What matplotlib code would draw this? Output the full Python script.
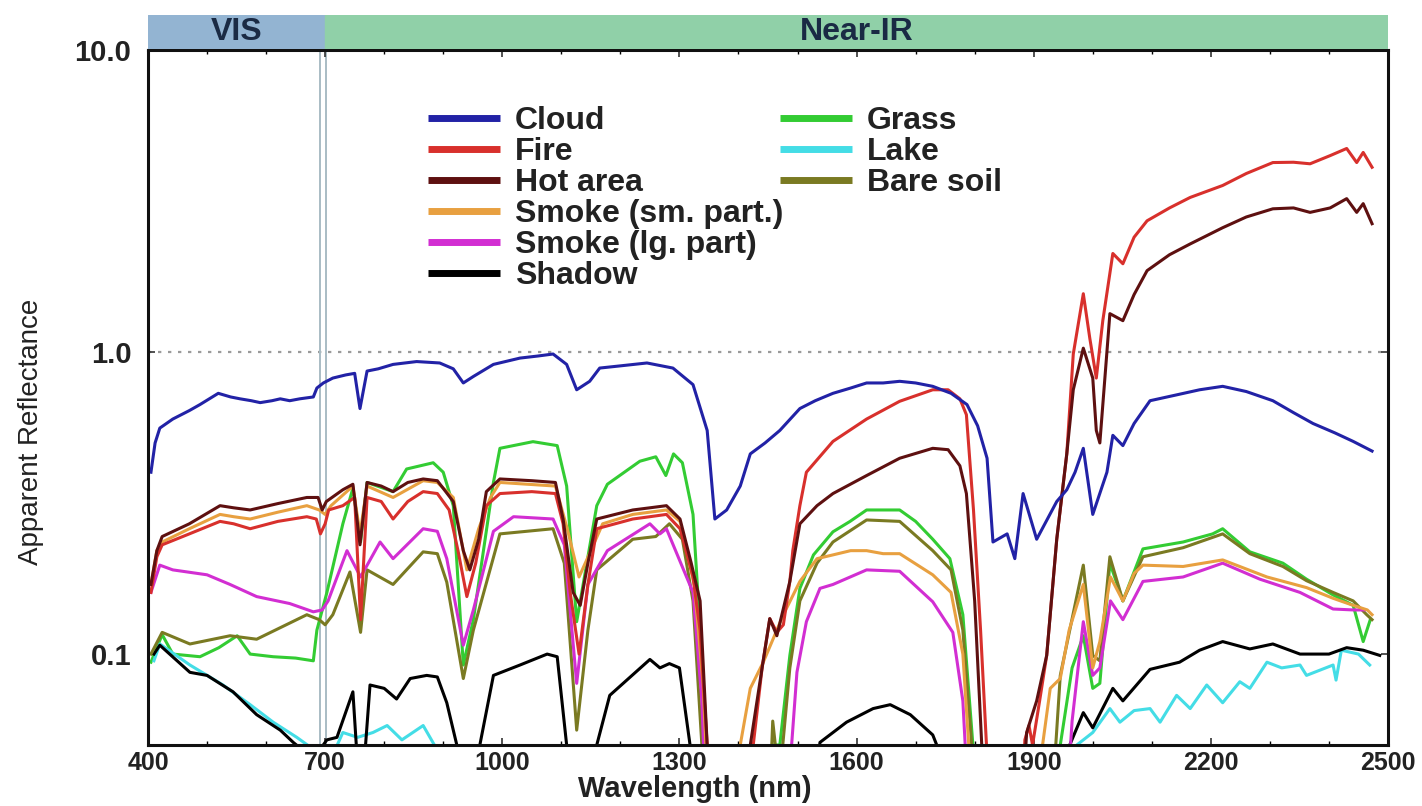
import numpy as np
import matplotlib.pyplot as plt
from matplotlib.lines import Line2D
from matplotlib.ticker import FixedLocator, FixedFormatter, NullLocator, MultipleLocator

plt.rcParams['font.family'] = ['Liberation Sans', 'DejaVu Sans']

# (wavelength nm, apparent reflectance); values under 0.05 run off the bottom of the axis
cloud = [(405, 0.40), (412, 0.50), (420, 0.56), (442, 0.60), (470, 0.64), (488, 0.67), (519, 0.73),
         (540, 0.71), (556, 0.70), (575, 0.69), (590, 0.68), (610, 0.69), (624, 0.70), (640, 0.69),
         (657, 0.70), (680, 0.71), (686, 0.76), (697, 0.79), (713, 0.82), (735, 0.84), (750, 0.85),
         (759, 0.65), (771, 0.865), (790, 0.88), (815, 0.91), (855, 0.93), (894, 0.92), (917, 0.88),
         (934, 0.79), (951, 0.83), (985, 0.91), (1030, 0.955), (1060, 0.97), (1086, 0.985),
         (1109, 0.91), (1126, 0.75), (1148, 0.80), (1165, 0.885), (1200, 0.90), (1245, 0.92),
         (1289, 0.885), (1323, 0.78), (1347, 0.55), (1360, 0.28), (1380, 0.30), (1403, 0.36),
         (1420, 0.46), (1445, 0.50), (1470, 0.55), (1504, 0.65), (1530, 0.69), (1560, 0.73),
         (1590, 0.76), (1617, 0.79), (1645, 0.79), (1673, 0.80), (1700, 0.79), (1729, 0.77),
         (1760, 0.73), (1787, 0.67), (1805, 0.57), (1821, 0.445), (1831, 0.235), (1855, 0.25),
         (1868, 0.207), (1882, 0.34), (1905, 0.24), (1939, 0.32), (1956, 0.35), (1970, 0.40),
         (1984, 0.48), (2000, 0.29), (2024, 0.40), (2034, 0.53), (2051, 0.49), (2070, 0.58),
         (2097, 0.69), (2140, 0.72), (2181, 0.75), (2220, 0.77), (2260, 0.74), (2305, 0.69),
         (2340, 0.63), (2373, 0.58), (2410, 0.54), (2441, 0.506), (2473, 0.47)]

fire = [(405, 0.16), (415, 0.21), (424, 0.23), (470, 0.25), (522, 0.275), (545, 0.27), (573, 0.26),
        (620, 0.275), (669, 0.285), (685, 0.28), (692, 0.25), (700, 0.27), (706, 0.30), (730, 0.31),
        (750, 0.33), (760, 0.13), (771, 0.33), (795, 0.32), (815, 0.28), (840, 0.32), (866, 0.345),
        (890, 0.34), (910, 0.30), (925, 0.22), (940, 0.155), (955, 0.20), (973, 0.31), (996, 0.34),
        (1050, 0.345), (1090, 0.34), (1103, 0.27), (1115, 0.16), (1130, 0.10), (1145, 0.17),
        (1160, 0.26), (1221, 0.28), (1250, 0.285), (1278, 0.29), (1301, 0.26), (1323, 0.18),
        (1335, 0.12), (1347, 0.05), (1355, 0.03), (1410, 0.03), (1425, 0.05), (1440, 0.09),
        (1453, 0.131), (1465, 0.118), (1476, 0.125), (1487, 0.174), (1492, 0.22), (1504, 0.31),
        (1515, 0.40), (1560, 0.506), (1617, 0.60), (1673, 0.687), (1729, 0.75), (1755, 0.75),
        (1775, 0.70), (1786, 0.62), (1798, 0.30), (1810, 0.12), (1820, 0.05), (1828, 0.03),
        (1880, 0.03), (1885, 0.052), (1892, 0.058), (1898, 0.05), (1910, 0.07), (1922, 0.099),
        (1939, 0.24), (1956, 0.46), (1967, 0.985), (1984, 1.56), (1995, 1.11), (2006, 0.82),
        (2017, 1.27), (2034, 2.12), (2051, 1.96), (2070, 2.40), (2092, 2.72), (2130, 3.0),
        (2165, 3.25), (2220, 3.56), (2260, 3.9), (2305, 4.24), (2340, 4.25), (2368, 4.2),
        (2402, 4.47), (2430, 4.72), (2447, 4.24), (2458, 4.58), (2473, 4.09)]

hot_area = [(405, 0.17), (415, 0.22), (424, 0.245), (470, 0.27), (522, 0.31), (545, 0.305), (573, 0.30),
            (620, 0.315), (669, 0.33), (688, 0.33), (695, 0.30), (702, 0.32), (730, 0.35), (747, 0.365),
            (759, 0.23), (771, 0.37), (795, 0.36), (815, 0.345), (840, 0.37), (866, 0.38), (890, 0.375),
            (917, 0.32), (934, 0.22), (945, 0.19), (960, 0.24), (973, 0.345), (996, 0.38), (1050, 0.375),
            (1090, 0.37), (1103, 0.28), (1120, 0.16), (1132, 0.145), (1145, 0.20), (1160, 0.28),
            (1221, 0.30), (1250, 0.305), (1278, 0.31), (1301, 0.28), (1320, 0.20), (1335, 0.15),
            (1347, 0.05), (1355, 0.03), (1412, 0.03), (1420, 0.05), (1440, 0.09), (1453, 0.131),
            (1465, 0.115), (1487, 0.174), (1504, 0.27), (1533, 0.31), (1560, 0.34), (1617, 0.39),
            (1673, 0.445), (1729, 0.48), (1755, 0.475), (1775, 0.42), (1786, 0.34), (1800, 0.15),
            (1812, 0.05), (1820, 0.03), (1880, 0.03), (1888, 0.055), (1905, 0.07), (1922, 0.099),
            (1939, 0.24), (1956, 0.46), (1967, 0.75), (1984, 1.03), (2000, 0.82), (2006, 0.55),
            (2012, 0.50), (2029, 1.34), (2051, 1.27), (2070, 1.55), (2092, 1.86), (2130, 2.1),
            (2165, 2.28), (2220, 2.58), (2260, 2.8), (2305, 2.98), (2340, 3.0), (2368, 2.9),
            (2402, 3.0), (2430, 3.22), (2447, 2.9), (2458, 3.1), (2473, 2.66)]

smoke_small = [(405, 0.17), (415, 0.22), (424, 0.235), (470, 0.26), (522, 0.29), (545, 0.285), (573, 0.28),
               (620, 0.295), (669, 0.31), (690, 0.30), (700, 0.29), (710, 0.31), (747, 0.36), (759, 0.25),
               (771, 0.36), (815, 0.33), (866, 0.375), (890, 0.37), (917, 0.33), (940, 0.19), (960, 0.26),
               (980, 0.33), (996, 0.37), (1090, 0.36), (1110, 0.26), (1130, 0.18), (1150, 0.22),
               (1170, 0.27), (1221, 0.29), (1278, 0.30), (1301, 0.275), (1325, 0.17), (1340, 0.08),
               (1350, 0.03), (1395, 0.03), (1403, 0.05), (1420, 0.077), (1442, 0.094), (1476, 0.135),
               (1504, 0.174), (1533, 0.207), (1560, 0.213), (1590, 0.22), (1617, 0.22), (1645, 0.215),
               (1673, 0.215), (1729, 0.183), (1760, 0.16), (1780, 0.10), (1790, 0.05), (1800, 0.03),
               (1905, 0.03), (1915, 0.05), (1928, 0.077), (1945, 0.083), (1960, 0.12), (1984, 0.17),
               (2000, 0.09), (2012, 0.11), (2030, 0.18), (2051, 0.15), (2070, 0.185), (2085, 0.197),
               (2153, 0.195), (2220, 0.205), (2295, 0.18), (2362, 0.166), (2407, 0.153), (2441, 0.145),
               (2465, 0.14), (2473, 0.135)]

smoke_large = [(405, 0.16), (420, 0.197), (442, 0.19), (500, 0.183), (539, 0.17), (584, 0.155), (640, 0.147),
               (680, 0.138), (695, 0.14), (705, 0.15), (737, 0.22), (760, 0.18), (793, 0.235), (815, 0.207),
               (866, 0.26), (890, 0.255), (906, 0.207), (934, 0.107), (951, 0.14), (985, 0.255),
               (1019, 0.285), (1086, 0.28), (1105, 0.23), (1126, 0.08), (1145, 0.17), (1178, 0.22),
               (1250, 0.27), (1267, 0.25), (1278, 0.26), (1323, 0.16), (1338, 0.07), (1345, 0.03),
               (1480, 0.03), (1490, 0.05), (1499, 0.087), (1515, 0.128), (1538, 0.165), (1560, 0.17),
               (1617, 0.19), (1673, 0.188), (1729, 0.149), (1763, 0.118), (1780, 0.07), (1790, 0.03),
               (1955, 0.03), (1965, 0.06), (1984, 0.128), (2000, 0.085), (2012, 0.09), (2030, 0.15),
               (2051, 0.13), (2085, 0.174), (2153, 0.18), (2220, 0.20), (2283, 0.177), (2351, 0.16),
               (2407, 0.141), (2441, 0.14), (2460, 0.14)]

shadow = [(410, 0.10), (420, 0.107), (471, 0.087), (500, 0.085), (544, 0.075), (584, 0.063), (624, 0.056),
          (646, 0.051), (680, 0.045), (703, 0.052), (720, 0.053), (747, 0.075), (760, 0.03), (776, 0.079),
          (800, 0.077), (821, 0.071), (844, 0.083), (872, 0.085), (890, 0.084), (906, 0.069), (923, 0.05),
          (935, 0.03), (955, 0.03), (962, 0.05), (985, 0.085), (1030, 0.092), (1076, 0.10), (1093, 0.098),
          (1109, 0.05), (1118, 0.03), (1150, 0.03), (1160, 0.05), (1182, 0.073), (1250, 0.096),
          (1267, 0.09), (1283, 0.093), (1300, 0.09), (1318, 0.05), (1325, 0.03), (1525, 0.03),
          (1538, 0.051), (1583, 0.0595), (1628, 0.066), (1657, 0.068), (1691, 0.063), (1729, 0.054),
          (1745, 0.045), (1750, 0.03), (1950, 0.03), (1961, 0.05), (1984, 0.064), (2000, 0.057),
          (2034, 0.077), (2051, 0.07), (2097, 0.089), (2147, 0.094), (2181, 0.103), (2220, 0.11),
          (2266, 0.104), (2305, 0.108), (2351, 0.10), (2400, 0.10), (2430, 0.105), (2458, 0.103),
          (2486, 0.099)]

grass = [(405, 0.094), (424, 0.116), (442, 0.10), (488, 0.098), (520, 0.105), (551, 0.115), (573, 0.10),
         (612, 0.098), (650, 0.097), (680, 0.095), (686, 0.12), (703, 0.16), (730, 0.27), (747, 0.354),
         (760, 0.235), (771, 0.37), (815, 0.345), (838, 0.41), (883, 0.43), (900, 0.40), (917, 0.31),
         (934, 0.092), (951, 0.13), (985, 0.37), (996, 0.48), (1052, 0.505), (1093, 0.49), (1109, 0.36),
         (1126, 0.128), (1160, 0.31), (1178, 0.365), (1233, 0.435), (1260, 0.45), (1277, 0.39),
         (1290, 0.46), (1305, 0.43), (1323, 0.29), (1335, 0.12), (1345, 0.03), (1455, 0.03),
         (1458, 0.05), (1470, 0.05), (1487, 0.099), (1504, 0.165), (1527, 0.213), (1560, 0.254),
         (1589, 0.275), (1617, 0.30), (1673, 0.30), (1700, 0.275), (1729, 0.24), (1758, 0.207),
         (1780, 0.135), (1797, 0.05), (1805, 0.03), (1935, 0.03), (1945, 0.05), (1965, 0.09),
         (1984, 0.115), (2000, 0.077), (2012, 0.08), (2029, 0.20), (2051, 0.15), (2085, 0.223),
         (2153, 0.235), (2203, 0.25), (2220, 0.26), (2266, 0.218), (2322, 0.20), (2362, 0.177),
         (2407, 0.157), (2441, 0.145), (2458, 0.11), (2470, 0.13)]

lake = [(410, 0.095), (420, 0.108), (471, 0.092), (527, 0.079), (573, 0.068), (612, 0.0595), (652, 0.053),
        (670, 0.05), (690, 0.045), (710, 0.045), (730, 0.055), (755, 0.053), (781, 0.055), (805, 0.058),
        (830, 0.052), (866, 0.058), (885, 0.05), (900, 0.04), (1960, 0.04), (1973, 0.05), (2000, 0.055),
        (2029, 0.066), (2046, 0.0595), (2070, 0.065), (2097, 0.066), (2114, 0.0595), (2142, 0.073),
        (2165, 0.066), (2193, 0.079), (2220, 0.069), (2249, 0.081), (2266, 0.077), (2295, 0.094),
        (2320, 0.09), (2351, 0.092), (2362, 0.085), (2407, 0.092), (2412, 0.082), (2421, 0.103),
        (2450, 0.10), (2469, 0.092)]

bare_soil = [(405, 0.10), (424, 0.118), (471, 0.108), (539, 0.115), (584, 0.112), (669, 0.135), (690, 0.13),
             (700, 0.125), (713, 0.135), (742, 0.187), (760, 0.118), (771, 0.19), (815, 0.17), (866, 0.218),
             (890, 0.215), (906, 0.173), (934, 0.083), (951, 0.12), (996, 0.25), (1086, 0.26), (1105, 0.20),
             (1126, 0.056), (1145, 0.12), (1160, 0.19), (1221, 0.24), (1260, 0.245), (1283, 0.27),
             (1305, 0.24), (1323, 0.15), (1338, 0.05), (1345, 0.03), (1452, 0.03), (1458, 0.06),
             (1465, 0.045), (1475, 0.05), (1487, 0.09), (1504, 0.15), (1533, 0.20), (1560, 0.235),
             (1617, 0.278), (1673, 0.275), (1729, 0.22), (1760, 0.19), (1780, 0.12), (1795, 0.05),
             (1805, 0.03), (1930, 0.03), (1945, 0.085), (1984, 0.197), (2000, 0.099), (2012, 0.095),
             (2029, 0.21), (2051, 0.15), (2085, 0.21), (2153, 0.225), (2220, 0.25), (2266, 0.215),
             (2322, 0.195), (2362, 0.175), (2407, 0.16), (2441, 0.15), (2464, 0.135), (2473, 0.13)]

left_labels = ['Cloud', 'Fire', 'Hot area', 'Smoke (sm. part.)', 'Smoke (lg. part)', 'Shadow']
right_labels = ['Grass', 'Lake', 'Bare soil']
left_data = [cloud, fire, hot_area, smoke_small, smoke_large, shadow]
right_data = [grass, lake, bare_soil]
left_colors = ['#2222a6', '#d8302c', '#5e1010', '#e8a040', '#d22ed2', '#000000']
right_colors = ['#33cc33', '#44dde6', '#7a7a22']

x_ticks = [400, 700, 1000, 1300, 1600, 1900, 2200, 2500]
y_ticks = [0.1, 1.0, 10.0]
y_tick_labels = ['0.1', '1.0', '10.0']

W, H = 1422, 806
fig = plt.figure(figsize=(W / 100, H / 100), dpi=100)
ax = fig.add_axes([148 / W, 1 - 745 / H, 1240 / W, 695 / H])

# draw the spectra, lake/shadow at the back
order = [6, 7, 5, 8, 4, 3, 1, 2, 0]
all_data = left_data + right_data
all_colors = left_colors + right_colors
for i in order:
    wl, refl = zip(*all_data[i])
    ax.plot(wl, refl, color=all_colors[i], lw=2.2, solid_joinstyle='round')

ax.set_yscale('log')
ax.set_xlim(400, 2500)
ax.set_ylim(0.05, 10)

ax.axhline(1.0, color='#9a9a9a', lw=1.6, ls=(0, (1.5, 3)), zorder=0)
for x in (692, 702):
    ax.axvline(x, color='#a9bcc4', lw=1.4, zorder=0)

ax.xaxis.set_major_locator(FixedLocator(x_ticks))
ax.xaxis.set_minor_locator(MultipleLocator(100))
ax.yaxis.set_major_locator(FixedLocator(y_ticks))
ax.yaxis.set_major_formatter(FixedFormatter(y_tick_labels))
ax.yaxis.set_minor_locator(NullLocator())
ax.tick_params(axis='both', which='major', direction='in', length=5, width=1.2,
               top=True, right=True, colors='#333333', labelcolor='#222222')
ax.tick_params(axis='x', which='minor', direction='in', length=3, width=1, top=True)
ax.tick_params(axis='x', which='major', labelsize=18, pad=4)
ax.tick_params(axis='y', which='major', labelsize=21, pad=12)
for lab in ax.get_xticklabels() + ax.get_yticklabels():
    lab.set_fontweight('bold')
for sp in ax.spines.values():
    sp.set_linewidth(2.2)
    sp.set_color('#111111')

ax.set_xlabel('Wavelength (nm)', fontsize=21, fontweight='bold', color='#222222', va='top')
ax.xaxis.set_label_coords(0.441, -0.0435)
ax.set_ylabel('Apparent Reflectance', fontsize=20, color='#222222')
ax.yaxis.set_label_coords(-0.084, 0.45)

# legend in two loose columns
def handles(colors, labels):
    return [Line2D([], [], color=c, lw=5, solid_capstyle='butt', label=l) for c, l in zip(colors, labels)]

leg_style = dict(loc='upper left', frameon=False, prop={'weight': 'bold', 'size': 23},
                 handlelength=2.25, handletextpad=0.47, labelspacing=0.03,
                 borderpad=0, borderaxespad=0)
leg1 = ax.legend(handles=handles(left_colors, left_labels), bbox_to_anchor=(0.2258, 0.919), **leg_style)
for t in leg1.get_texts():
    t.set_color('#222222')
ax.add_artist(leg1)
leg2 = ax.legend(handles=handles(right_colors, right_labels), bbox_to_anchor=(0.5097, 0.919), **leg_style)
for t in leg2.get_texts():
    t.set_color('#222222')

# spectral region band above the plot
band = fig.add_axes([148 / W, 1 - 49 / H, 1240 / W, 34 / H])
band.set_xlim(400, 2500)
band.set_ylim(0, 1)
band.axvspan(400, 700, color='#93b4d2')
band.axvspan(700, 2500, color='#90d0a8')
band.text(550, 0.5, 'VIS', ha='center', va='center', fontsize=23, fontweight='bold', color='#1a2a44')
band.text(1600, 0.5, 'Near-IR', ha='center', va='center', fontsize=23, fontweight='bold', color='#1a2a44')
band.axis('off')

fig.savefig('out.png', dpi=100)
